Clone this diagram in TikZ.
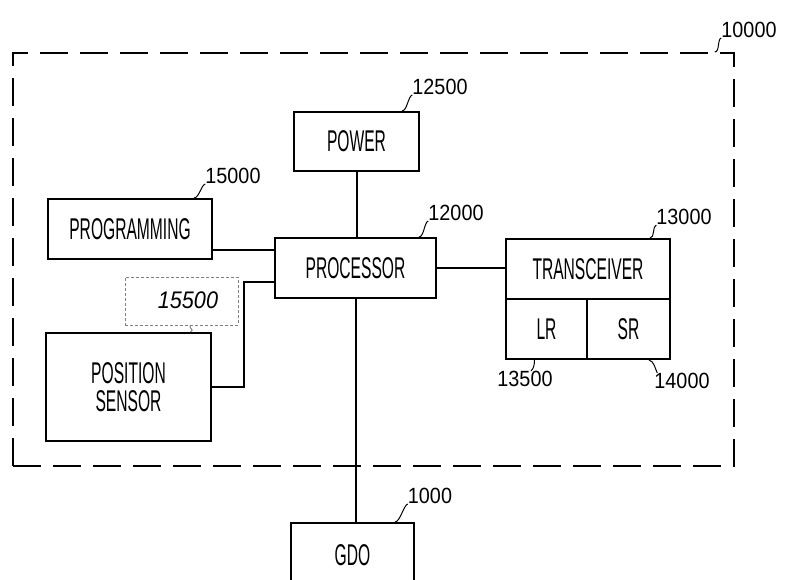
\documentclass[tikz,border=0pt]{standalone}
\usepackage{fontspec}
\setmainfont{Liberation Sans}
\newfontfamily\boxfont{Liberation Sans}[FakeStretch=0.52]
\newfontfamily\numfont{Liberation Sans}[FakeStretch=0.9]
\begin{document}
\begin{tikzpicture}[x=1pt,y=-1pt,
  box/.style={draw, line width=2pt, anchor=north west, inner sep=0pt,
    font=\boxfont\fontsize{30}{28}\selectfont, align=center},
  conn/.style={line width=2pt},
  num/.style={font=\numfont\fontsize{22}{24}\selectfont, inner sep=0pt},
  lead/.style={line width=1pt}]
\useasboundingbox (0,0) rectangle (787,580);
\clip (0,0) rectangle (787,580);
\fill[white] (0,0) rectangle (787,580);

% outer dashed boundary
\node[draw, line width=1.8pt, dash pattern=on 28pt off 12pt, anchor=north west,
  minimum width=721pt, minimum height=413pt, inner sep=0pt] (outer) at (12,52) {};

% boxes
\node[box, minimum width=125pt, minimum height=59pt] (power) at (293,111) {POWER};
\node[box, minimum width=161pt, minimum height=60pt] (proc) at (274,237) {PROCESSOR};
\node[box, minimum width=164pt, minimum height=60pt] (prog) at (47,198) {PROGRAMMING};
\node[box, minimum width=165pt, minimum height=108pt] (sens) at (45,332) {POSITION\\SENSOR};
\node[box, minimum width=164pt, minimum height=60pt] (trans) at (505,238) {TRANSCEIVER};
\node[box, minimum width=81pt, minimum height=60pt] (lr) at (505,298) {LR};
\node[box, minimum width=83pt, minimum height=60pt] (sr) at (586,298) {SR};
\node[box, minimum width=123pt, minimum height=64pt] (gdo) at (290,522) {GDO};

% dotted optional box
\node[draw, gray, line width=0.8pt, dash pattern=on 3pt off 2pt, anchor=north west,
  minimum width=113pt, minimum height=48pt, inner sep=0pt] (pb) at (125,277) {};

% connectors
\draw[conn] (power.south) -- (power.south |- proc.north);
\draw[conn] (proc.south) -- (proc.south |- gdo.north);
\draw[conn] ([yshift=-21pt]prog.east) coordinate (pa) -- (pa -| proc.west);
\draw[conn] (sens.east) -- ++(32,0) |- ([yshift=-14pt]proc.west);
\draw[conn] (proc.east) -- (proc.east -| trans.west);

% reference numerals
\node[num] (l10000) at (749,30) {10000};
\node[num] (l12500) at (440,87) {12500};
\node[num] (l12000) at (456,213) {12000};
\node[num] (l15000) at (233,176) {15000};
\node[num] (l13000) at (684,217) {13000};
\node[num] (l13500) at (525,379) {13500};
\node[num] (l14000) at (682,381) {14000};
\node[num] (l1000) at (430,496) {1000};
\node[num, font=\numfont\itshape\fontsize{24}{26}\selectfont] (l15500) at (188,300) {15500};

% leaders
\draw[lead] ([xshift=-20pt]outer.north east) .. controls +(5,0) and +(-4,1) .. (l10000.south west);
\draw[lead] ([xshift=-18pt]power.north east) .. controls +(5,0) and +(-4,1) .. (l12500.south west);
\draw[lead] ([xshift=-18pt]proc.north east) .. controls +(5,0) and +(-4,1) .. (l12000.south west);
\draw[lead] ([xshift=-19pt]prog.north east) .. controls +(5,0) and +(-4,1) .. (l15000.south west);
\draw[lead] ([xshift=-21pt]trans.north east) .. controls +(5,0) and +(-4,1) .. (l13000.south west);
\draw[lead] ([xshift=-12pt]lr.south) .. controls +(0,4) and +(3,-3) .. ([xshift=6pt]l13500.north);
\draw[lead] ([xshift=-22pt]sr.south east) .. controls +(5,1) and +(-2,-4) .. ([xshift=3pt]l14000.north west);
\draw[lead] ([xshift=-20pt]gdo.north east) .. controls +(5,0) and +(-4,1) .. (l1000.south west);
\draw[lead, gray] ([xshift=8pt]pb.south) .. controls +(0,4) and +(4,-3) .. ([xshift=62pt]sens.north);
\end{tikzpicture}
\end{document}
